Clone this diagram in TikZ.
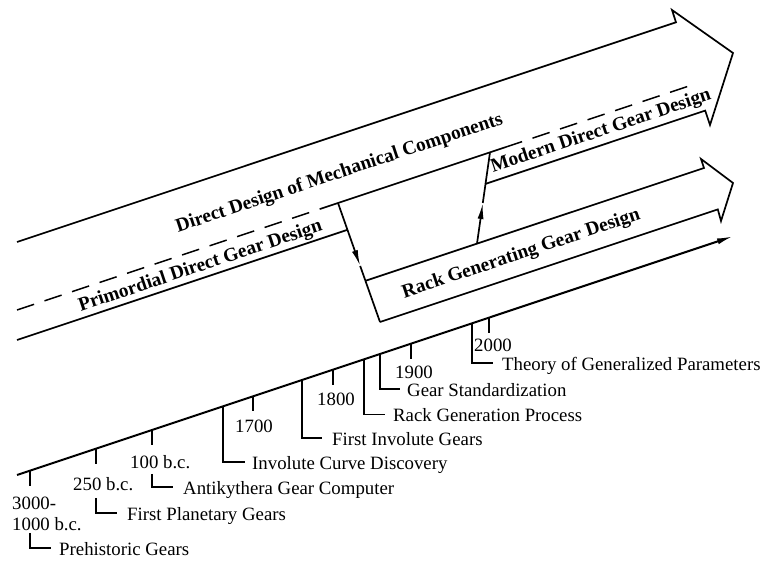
\documentclass[tikz,border=0pt]{standalone}
\usepackage{fontspec}
\setmainfont{Liberation Serif}
\usetikzlibrary{arrows.meta}
\begin{document}
\begin{tikzpicture}[x=1pt,y=1pt,
  band/.style={line width=1.7pt, line join=miter},
  dsh/.style={line width=1.5pt, dash pattern=on 18pt off 11pt},
  lbl/.style={inner sep=0pt, font=\fontsize{18.8}{22}\selectfont, anchor=base west},
  bandlbl/.style={inner sep=0pt, font=\fontsize{19.4}{23}\selectfont\bfseries, rotate=18.435, anchor=base},
  tick/.style={line width=1.6pt},
  ah/.style={-{Latex[length=16pt,width=6pt]}},
]
\useasboundingbox (0,0) rectangle (769,561);

% ---- big arrow: Direct Design of Mechanical Components
\coordinate (T0) at (17,319);
\coordinate (Th) at (676,538.7);
\coordinate (Hb1) at (672,551);
\coordinate (Htip) at (733,508);
\coordinate (Hb2) at (710,436);
\coordinate (Bh) at (705.2,450.4);
\coordinate (Bj) at (485.5,377.1);
\draw[band] (T0) -- (Th) -- (Hb1) -- (Htip) -- (Hb2) -- (Bh) -- (Bj);

% primordial bottom
\coordinate (B0) at (17,221);
\coordinate (Bd) at (347.45,331.2);
\draw[band] (B0) -- (Bd);

% divider
\coordinate (D0) at (17,251);
\coordinate (D1) at (320,352);
\coordinate (D2) at (505,413.67);
\coordinate (D3) at (695,477);
\draw[dsh] (D0) -- (D1);
\draw[band] (D1) -- (D2);
\draw[dsh] (D2) -- (D3);

% ---- rack band
\coordinate (R1a) at (365.5,280.2);
\coordinate (R1b) at (704,393);
\coordinate (Rb1) at (701,402);
\coordinate (Rtip) at (733,378);
\coordinate (Rb2) at (721,340);
\coordinate (R2b) at (717.8,351.6);
\coordinate (R2a) at (380,239);
\draw[band] (R1a) -- (R1b) -- (Rb1) -- (Rtip) -- (Rb2) -- (R2b) -- (R2a);

% ---- down arrow
\coordinate (Ds) at (338,358);
\coordinate (Dt) at (360.2,295);
\draw[band, ah] (Ds) -- (Dt);
\draw[band] (Dt) -- (R2a);

% ---- up arrow
\coordinate (Us) at (477,317.3);
\coordinate (Ut) at (482.8,358);
\coordinate (Ue) at (490,408.7);
\draw[band, ah] (Us) -- (Ut);
\draw[band] (Ut) -- (Ue);

% ---- band labels
\node[bandlbl] (lDirect) at (341,383) {Direct Design of Mechanical Components};
\node[bandlbl] (lPrim) at (202,290) {Primordial Direct Gear Design};
\node[bandlbl] (lModern) at (602.5,425) {Modern Direct Gear Design};
\node[bandlbl] (lRack) at (522.7,302.3) {Rack Generating Gear Design};

% ---- timeline axis
\coordinate (A0) at (17,86);
\coordinate (A1) at (733,324.7);
\draw[line width=2pt, -{Latex[length=16pt,width=6pt]}] (A0) -- (A1);

% ticks
\foreach \x/\y in {30/90.33, 96/112.33, 152/131, 253/164.67, 333/191.33, 411/217.33, 489/243.33}
  \draw[tick] (\x,\y) -- ++(0,-15);

% year labels
\node[lbl] (y1) at (12,51) {3000-};
\node[lbl] (y1b) at (12,30) {1000 b.c.};
\node[lbl] (y2) at (73,70) {250 b.c.};
\node[lbl] (y3) at (130,92) {100 b.c.};
\node[lbl] (y4) at (235,128) {1700};
\node[lbl] (y5) at (317,155) {1800};
\node[lbl] (y6) at (395,182) {1900};
\node[lbl] (y7) at (474,209) {2000};

% brackets and event labels
\draw[tick] (30,28) -- (30,13) -- (51,13);
\node[lbl] (e1) at (59,5.5) {Prehistoric Gears};
\draw[tick] (96,63) -- (96,48) -- (117,48);
\node[lbl] (e2) at (127,40.5) {First Planetary Gears};
\draw[tick] (152,87) -- (152,74) -- (173,74);
\node[lbl] (e3) at (183,66.5) {Antikythera Gear Computer};
\draw[tick] (223,154.67) -- (223,99) -- (245,99);
\node[lbl] (e4) at (252,91.5) {Involute Curve Discovery};
\draw[tick] (302,181) -- (302,123) -- (322,123);
\node[lbl] (e5) at (332,115.5) {First Involute Gears};
\draw[tick] (364,201.67) -- (364,146.5) -- (385,146.5);
\node[lbl] (e6) at (393,139) {Rack Generation Process};
\draw[tick] (380,207) -- (380,172) -- (400,172);
\node[lbl] (e7) at (407,164.5) {Gear Standardization};
\draw[tick] (472,237.67) -- (472,198) -- (493,198);
\node[lbl] (e8) at (502,190.5) {Theory of Generalized Parameters};
\end{tikzpicture}
\end{document}
